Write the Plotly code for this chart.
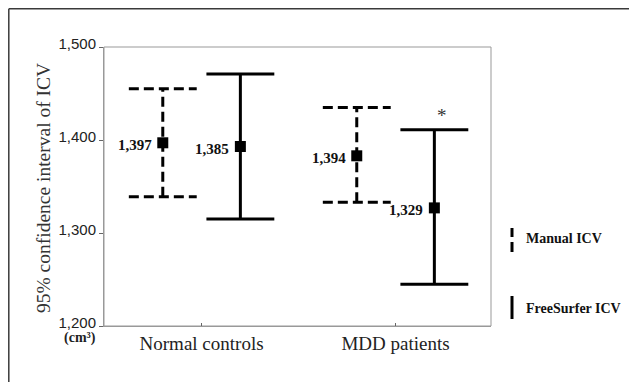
import plotly.graph_objects as go

groups = ["Normal controls", "MDD patients"]
group_pos = [1, 2]

manual_lo = [1339, 1333]
manual_hi = [1455, 1435]
manual_mean = [1397, 1383]
manual_labels = ["1,397", "1,394"]

fs_lo = [1315, 1245]
fs_hi = [1471, 1411]
fs_mean = [1393, 1327]
fs_labels = ["1,385", "1,329"]

y_ticks = [1200, 1300, 1400, 1500]
y_ticktext = ["1,200", "1,300", "1,400", "1,500"]

SERIF = "Liberation Serif, Times New Roman, serif"
SANS = "Liberation Sans, Arial, sans-serif"

# page body has an 8px margin; figure sized so it fits the 637x382 window
OFF = 8
W, H = 637 - OFF, 382 - OFF
PL, PR, PT, PB = 104, 491, 47, 326          # plot box in screenshot pixels
ML, MT = PL - OFF, PT - OFF
MR, MB = W - (PR - OFF), H - (PB - OFF)
PW, PH = PR - PL, PB - PT

def px_x(p):
    return (p - PL) / PW

def px_y(p):
    return (PB - p) / PH

offset = 0.2
cap = 0.175

fig = go.Figure()

def add_series(lo, hi, mean, labels, off, dash):
    xs, ys = [], []
    for g, l, h in zip(group_pos, lo, hi):
        x = g + off
        xs += [x, x, None, x - cap, x + cap, None, x - cap, x + cap, None]
        ys += [l, h, None, l, l, None, h, h, None]
    fig.add_trace(go.Scatter(x=xs, y=ys, mode="lines",
                             line=dict(color="black", width=3, dash=dash),
                             hoverinfo="skip", showlegend=False))
    fig.add_trace(go.Scatter(x=[g + off for g in group_pos], y=mean, mode="markers",
                             marker=dict(symbol="square", size=11, color="black"),
                             showlegend=False))
    for g, m, t in zip(group_pos, mean, labels):
        fig.add_annotation(x=g + off, y=m, text="<b>" + t + "</b>", showarrow=False,
                           xanchor="right", yanchor="middle", xshift=-9, yshift=-2,
                           font=dict(family=SERIF, size=15, color="#111"))

add_series(manual_lo, manual_hi, manual_mean, manual_labels, -offset, "10px,5px")
add_series(fs_lo, fs_hi, fs_mean, fs_labels, offset, "solid")

# significance asterisk
fig.add_annotation(x=group_pos[1] + offset, y=fs_hi[1], text="*", showarrow=False,
                   xanchor="center", yanchor="bottom", yshift=2, xshift=8,
                   font=dict(family=SERIF, size=19, color="#333"))

# y-axis title
fig.add_annotation(xref="paper", yref="paper", x=px_x(43), y=px_y(188),
                   text="95% confidence interval of ICV", textangle=-90,
                   showarrow=False, xanchor="center", yanchor="middle",
                   font=dict(family=SERIF, size=19.5, color="#333"))
# unit
fig.add_annotation(xref="paper", yref="paper", x=px_x(80), y=px_y(338),
                   text="<b>(cm³)</b>", showarrow=False,
                   xanchor="center", yanchor="middle",
                   font=dict(family=SERIF, size=14, color="#222"))

# legend
lx = px_x(512)
for y0, y1 in [(228, 237), (242, 252), (296, 319)]:
    fig.add_shape(type="line", xref="paper", yref="paper", x0=lx, x1=lx,
                  y0=px_y(y0), y1=px_y(y1), line=dict(color="black", width=3))
fig.add_annotation(xref="paper", yref="paper", x=px_x(524), y=px_y(238),
                   text="<b>Manual ICV</b>", showarrow=False,
                   xanchor="left", yanchor="middle",
                   font=dict(family=SERIF, size=14, color="#111"))
fig.add_annotation(xref="paper", yref="paper", x=px_x(524), y=px_y(308),
                   text="<b>FreeSurfer ICV</b>", showarrow=False,
                   xanchor="left", yanchor="middle",
                   font=dict(family=SERIF, size=14, color="#111"))

# plot frame
fig.add_shape(type="rect", xref="paper", yref="paper", x0=0, x1=1, y0=0, y1=1,
              line=dict(color="#999", width=1), layer="below")

# outer frame (top & left)
fig.add_shape(type="line", xref="paper", yref="paper", x0=px_x(8.8), x1=px_x(640),
              y0=px_y(8.8), y1=px_y(8.8), line=dict(color="#3a3a3a", width=1.5))
fig.add_shape(type="line", xref="paper", yref="paper", x0=px_x(8.8), x1=px_x(8.8),
              y0=px_y(8.8), y1=px_y(385), line=dict(color="#3a3a3a", width=1.5))

fig.update_layout(
    width=W, height=H,
    margin=dict(l=ML, r=MR, t=MT, b=MB),
    paper_bgcolor="white", plot_bgcolor="white",
    xaxis=dict(range=[0.497, 2.492], tickvals=group_pos, ticktext=groups,
               showgrid=False, zeroline=False, showline=True,
               linecolor="#999", linewidth=1, ticks="inside", ticklen=3,
               tickcolor="#666",
               tickfont=dict(family=SERIF, size=19, color="#222")),
    yaxis=dict(range=[1200, 1500], tickvals=y_ticks, ticktext=y_ticktext,
               showgrid=False, zeroline=False, showline=True,
               linecolor="#999", linewidth=1, ticks="outside", ticklen=4,
               tickcolor="#666", ticklabelshift=-3,
               tickfont=dict(family=SANS, size=15, color="#222")),
)

fig.write_html("out.html")
